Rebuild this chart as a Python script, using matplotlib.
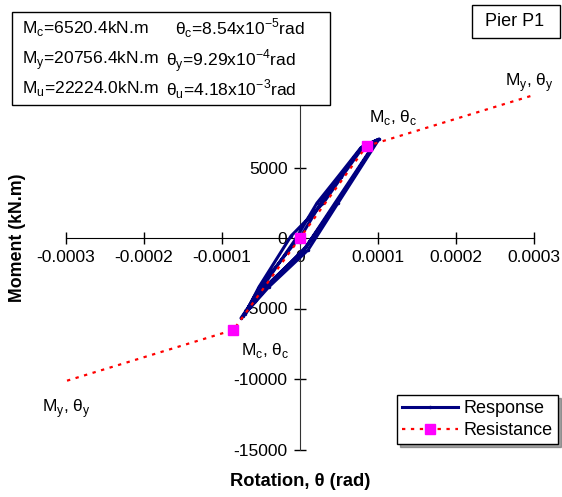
import matplotlib
matplotlib.use("Agg")
import matplotlib.pyplot as plt
from matplotlib.patches import Rectangle

plt.rcParams['font.family'] = ['Liberation Sans', 'DejaVu Sans']
plt.rcParams['mathtext.fontset'] = 'custom'
plt.rcParams['mathtext.rm'] = 'Liberation Sans'

# ---- data ----
theta_res = [-9.29e-4, -8.54e-5, 0.0, 8.54e-5, 9.29e-4]
moment_res = [-20756.4, -6520.4, 0.0, 6520.4, 20756.4]

theta_resp = [0.0, 0.0000269, 0.0000500, 0.0000795, 0.0001013,
              0.0000487, 0.0000103,
              -0.0000397, -0.0000756,
              -0.0000480, -0.0000064,
              0.0000218, 0.0000474, 0.0000780, 0.0000980,
              0.0000449, 0.0000050,
              -0.0000449, -0.0000705,
              -0.0000526, -0.0000115,
              0.0000300, 0.0000530, 0.0000815, 0.0000990,
              0.0000470, 0.0000080,
              -0.0000420, -0.0000730,
              -0.0000505, -0.0000030, 0.0]
moment_resp = [0.0, 2482, 4255, 6454, 7021,
               2482, -851,
               -3454, -5674,
               -3475, -142,
               2482, 4255, 6400, 6900,
               2482, -851,
               -3475, -5390,
               -3475, 142,
               2482, 4300, 6500, 6950,
               2482, -600,
               -3454, -5550,
               -3400, -100, 0.0]

xticks = [-0.0003, -0.0002, -0.0001, 0, 0.0001, 0.0002, 0.0003]
xticklabels = ['-0.0003', '-0.0002', '-0.0001', '0', '0.0001', '0.0002', '0.0003']
yticks = [-15000, -10000, -5000, 0, 5000, 10000, 15000]
yticklabels = ['-15000', '-10000', '-5000', '0', '5000', '', '']

W, H = 562, 497
fig = plt.figure(figsize=(W / 100, H / 100), dpi=100)
ax = fig.add_axes([66 / W, 1 - 449.5 / H, 468 / W, 423 / H])
ax.set_xlim(-0.0003, 0.0003)
ax.set_ylim(-15000, 15000)

ax.plot(theta_resp, moment_resp, color='#000080', lw=2.2, marker='.', ms=3,
        label='Response', zorder=3)
ax.plot(theta_res, moment_res, color='red', lw=1.6, ls=(0, (1.5, 2.5)),
        marker='s', ms=7, mfc='magenta', mec='magenta', label='Resistance', zorder=4)

for s in ['top', 'right']:
    ax.spines[s].set_visible(False)
ax.spines['left'].set_position('zero')
ax.spines['bottom'].set_position('zero')
ax.spines['left'].set_color('#333333')
ax.set_xticks(xticks)
ax.set_xticklabels(xticklabels)
ax.set_yticks(yticks)
ax.set_yticklabels(yticklabels)
ax.tick_params(direction='inout', length=8, width=1, labelsize=12.5, pad=5)
ax.patch.set_visible(False)

# point labels
lab_fs = 12.5
ax.text(0.000294, 11060, r'M$_\mathregular{y}$, θ$_\mathregular{y}$', fontsize=lab_fs,
        ha='center', va='center', clip_on=False)
ax.text(0.00012, 8550, r'M$_\mathregular{c}$, θ$_\mathregular{c}$', fontsize=lab_fs,
        ha='center', va='center')
ax.text(-0.000045, -7950, r'M$_\mathregular{c}$, θ$_\mathregular{c}$', fontsize=lab_fs,
        ha='center', va='center')
ax.text(-0.0003, -12100, r'M$_\mathregular{y}$, θ$_\mathregular{y}$', fontsize=lab_fs,
        ha='center', va='center', clip_on=False)

# axis labels
fig.text(18 / W, 1 - 238 / H, 'Moment (kN.m)', rotation=90, fontsize=12.8,
         fontweight='bold', ha='center', va='center')
fig.text(300 / W, 1 - 482 / H, 'Rotation, θ (rad)', fontsize=13.2,
         fontweight='bold', ha='center', va='center')

# info box
fig.add_artist(Rectangle((12 / W, 1 - 105 / H), 318 / W, 93 / H,
                         transform=fig.transFigure, facecolor='white',
                         edgecolor='black', lw=1, zorder=10))
box_fs = 12.6
rows = [
    (r'M$_\mathregular{c}$=6520.4kN.m', r'θ$_\mathregular{c}$=8.54x10$^\mathregular{-5}$rad', 28, 175),
    (r'M$_\mathregular{y}$=20756.4kN.m', r'θ$_\mathregular{y}$=9.29x10$^\mathregular{-4}$rad', 61, 166),
    (r'M$_\mathregular{u}$=22224.0kN.m', r'θ$_\mathregular{u}$=4.18x10$^\mathregular{-3}$rad', 89, 166),
]
for a, b, yy, xb in rows:
    fig.text(22 / W, 1 - yy / H, a, fontsize=box_fs, ha='left', va='center', zorder=11)
    fig.text(xb / W, 1 - yy / H, b, fontsize=box_fs, ha='left', va='center', zorder=11)

# pier box
fig.add_artist(Rectangle((472 / W, 1 - 38 / H), 88 / W, 33 / H,
                         transform=fig.transFigure, facecolor='white',
                         edgecolor='black', lw=1, zorder=10))
fig.text(515 / W, 1 - 22 / H, 'Pier P1', fontsize=13, ha='center', va='center', zorder=11)

leg = ax.legend(loc='upper left', bbox_to_anchor=(397 / W, 1 - 395 / H),
                bbox_transform=fig.transFigure, fontsize=13, frameon=True,
                fancybox=False, shadow=True, framealpha=1, edgecolor='black',
                handlelength=3.1, handletextpad=0.3, labelspacing=0.25,
                borderpad=0.3, borderaxespad=0)
leg.get_frame().set_linewidth(1)

fig.savefig('out.png', dpi=100)
